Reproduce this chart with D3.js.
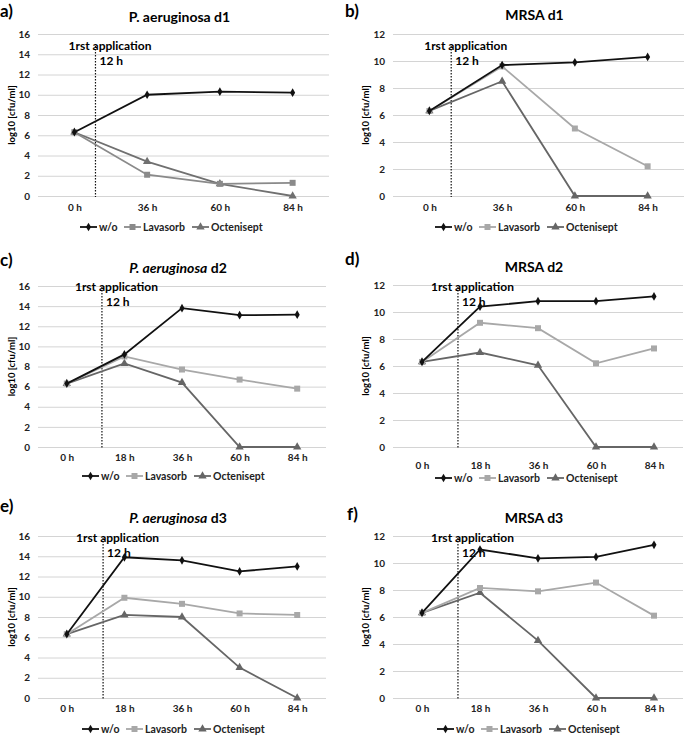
<!DOCTYPE html>
<html>
<head>
<meta charset="utf-8">
<script src="https://cdn.jsdelivr.net/npm/d3@7"></script>
<style>
  body { margin: 0; background: #fff; }
  text { font-family: Lato, "Open Sans", sans-serif; }
</style>
</head>
<body>
<div id="chart"></div>
<script>
// categories
const timesD1 = ["0 h", "36 h", "60 h", "84 h"];
const timesD23 = ["0 h", "18 h", "36 h", "60 h", "84 h"];
const seriesNames = ["w/o", "Lavasorb", "Octenisept"];
const yTicksPa = [0, 2, 4, 6, 8, 10, 12, 14, 16];
const yTicksMrsa = [0, 2, 4, 6, 8, 10, 12];

// log10 cfu/ml
const paD1Wo  = [6.3, 10.0, 10.3, 10.2];
const paD1Lav = [6.3, 2.1, 1.2, 1.3];
const paD1Oct = [6.3, 3.4, 1.2, 0];

const mrsaD1Wo  = [6.3, 9.7, 9.9, 10.3];
const mrsaD1Lav = [6.3, 9.6, 5.0, 2.2];
const mrsaD1Oct = [6.3, 8.5, 0, 0];

const paD2Wo  = [6.3, 9.2, 13.8, 13.1, 13.15];
const paD2Lav = [6.3, 9.0, 7.7, 6.7, 5.8];
const paD2Oct = [6.3, 8.3, 6.4, 0, 0];

const mrsaD2Wo  = [6.3, 10.4, 10.8, 10.8, 11.15];
const mrsaD2Lav = [6.3, 9.2, 8.8, 6.2, 7.3];
const mrsaD2Oct = [6.3, 7.0, 6.05, 0, 0];

const paD3Wo  = [6.3, 13.9, 13.6, 12.5, 13.0];
const paD3Lav = [6.3, 9.9, 9.3, 8.35, 8.2];
const paD3Oct = [6.3, 8.2, 8.0, 3.0, 0];

const mrsaD3Wo  = [6.3, 11.0, 10.35, 10.45, 11.35];
const mrsaD3Lav = [6.3, 8.15, 7.9, 8.55, 6.1];
const mrsaD3Oct = [6.3, 7.8, 4.25, 0, 0];

const colorsA = ["#111", "#8a8a8a", "#707070"];
const colorsB = ["#111", "#a8a8a8", "#666"];
const symbols = [d3.symbolDiamond, d3.symbolSquare, d3.symbolTriangle];
const symSize = [22, 36, 30];

const svg = d3.select("#chart").append("svg")
  .attr("width", 685)
  .attr("height", 742);

const panels = [
  {tag: "a)", tagX: 0, tagY: 17, org: "P. aeruginosa", day: " d1", italic: false, titleY: 22,
   times: timesD1, vals: [paD1Wo, paD1Lav, paD1Oct], ticks: yTicksPa, colors: colorsA,
   left: 38, right: 329, top: 34, bottom: 196, vIdx: 0.29, annY: 50, labY: 213, legX: 80, legY: 227, yLabX: 13},
  {tag: "b)", tagX: 345, tagY: 17, org: "MRSA", day: " d1", italic: false, titleY: 20,
   times: timesD1, vals: [mrsaD1Wo, mrsaD1Lav, mrsaD1Oct], ticks: yTicksMrsa, colors: colorsB,
   left: 393, right: 684, top: 34, bottom: 196, vIdx: 0.30, annY: 50, labY: 213, legX: 435, legY: 227, yLabX: 367},
  {tag: "c)", tagX: 0, tagY: 266, org: "P. aeruginosa", day: " d2", italic: true, titleY: 273,
   times: timesD23, vals: [paD2Wo, paD2Lav, paD2Oct], ticks: yTicksPa, colors: colorsB,
   left: 38, right: 326, top: 286, bottom: 447, vIdx: 0.61, annY: 291, labY: 463, legX: 82, legY: 476, yLabX: 13},
  {tag: "d)", tagX: 345, tagY: 265, org: "MRSA", day: " d2", italic: false, titleY: 272,
   times: timesD23, vals: [mrsaD2Wo, mrsaD2Lav, mrsaD2Oct], ticks: yTicksMrsa, colors: colorsB,
   left: 393, right: 683, top: 285, bottom: 447, vIdx: 0.62, annY: 291, labY: 471, legX: 435, legY: 478, yLabX: 367},
  {tag: "e)", tagX: 0, tagY: 512, org: "P. aeruginosa", day: " d3", italic: true, titleY: 523,
   times: timesD23, vals: [paD3Wo, paD3Lav, paD3Oct], ticks: yTicksPa, colors: colorsB,
   left: 38, right: 326, top: 536, bottom: 698, vIdx: 0.63, annY: 542, labY: 714, legX: 82, legY: 729, yLabX: 13},
  {tag: "f)", tagX: 347, tagY: 520, org: "MRSA", day: " d3", italic: false, titleY: 523,
   times: timesD23, vals: [mrsaD3Wo, mrsaD3Lav, mrsaD3Oct], ticks: yTicksMrsa, colors: colorsB,
   left: 393, right: 683, top: 536, bottom: 698, vIdx: 0.62, annY: 542, labY: 714, legX: 437, legY: 729, yLabX: 367}
];

panels.forEach(p => {
  const g = svg.append("g");
  const n = p.times.length;

  const x = d3.scaleLinear().domain([-0.5, n - 0.5]).range([p.left, p.right]);
  const y = d3.scaleLinear().domain([0, d3.max(p.ticks)]).range([p.bottom, p.top]);

  // panel tag
  g.append("text")
    .attr("x", p.tagX).attr("y", p.tagY)
    .attr("font-size", "17px").attr("font-weight", "bold")
    .text(p.tag);

  // title
  const t = g.append("text")
    .attr("x", (p.left + p.right) / 2 - 4).attr("y", p.titleY)
    .attr("text-anchor", "middle")
    .attr("font-size", "14px").attr("font-weight", "bold");
  t.append("tspan").attr("font-style", p.italic ? "italic" : "normal").text(p.org);
  t.append("tspan").text(p.day);

  // gridlines + y labels
  const yAxis = g.append("g")
    .attr("transform", `translate(${p.left},0)`)
    .call(d3.axisLeft(y).tickValues(p.ticks).tickSize(-(p.right - p.left)).tickPadding(8));
  yAxis.select(".domain").remove();
  yAxis.selectAll(".tick line").attr("stroke", "#d4d4d4").attr("stroke-width", 1);
  yAxis.selectAll(".tick text")
    .attr("font-family", "Lato, sans-serif").attr("font-size", "10px")
    .attr("font-weight", "bold").attr("fill", "#222");

  g.append("text")
    .attr("transform", `translate(${p.yLabX},${(p.top + p.bottom) / 2}) rotate(-90)`)
    .attr("text-anchor", "middle").attr("dominant-baseline", "middle")
    .attr("font-size", "9.5px").attr("font-weight", "bold")
    .text("log10 [cfu/ml]");

  // x labels
  const xAxis = g.append("g")
    .attr("transform", `translate(0,${p.labY - 9})`)
    .call(d3.axisBottom(x).tickValues(d3.range(n)).tickFormat(i => p.times[i]).tickSize(0).tickPadding(0));
  xAxis.select(".domain").remove();
  xAxis.selectAll(".tick text")
    .attr("font-family", "Lato, sans-serif").attr("font-size", "10px")
    .attr("font-weight", "bold").attr("fill", "#222");

  // first application marker
  const vx = x(p.vIdx);
  g.append("line")
    .attr("x1", vx).attr("x2", vx)
    .attr("y1", p.annY - 4).attr("y2", p.bottom + 1)
    .attr("stroke", "#111").attr("stroke-width", 1.2)
    .attr("stroke-dasharray", "1.5,1.5");
  g.append("text")
    .attr("x", vx - 27).attr("y", p.annY)
    .attr("font-family", "'Liberation Sans', Arial, sans-serif")
    .attr("font-size", "12px").attr("font-weight", "bold")
    .text("1rst application");
  g.append("text")
    .attr("x", vx + 4).attr("y", p.annY + 15)
    .attr("font-family", "'Liberation Sans', Arial, sans-serif")
    .attr("font-size", "12px").attr("font-weight", "bold")
    .text("12 h");

  // series, drawn back to front
  const line = d3.line().x((d, i) => x(i)).y(d => y(d));
  [2, 1, 0].forEach(s => {
    g.append("path")
      .datum(p.vals[s])
      .attr("d", line)
      .attr("fill", "none")
      .attr("stroke", p.colors[s])
      .attr("stroke-width", 1.8);
    g.selectAll(null)
      .data(p.vals[s])
      .enter().append("path")
      .attr("transform", (d, i) => `translate(${x(i)},${y(d)})`)
      .attr("d", d3.symbol().type(symbols[s]).size(symSize[s]))
      .attr("fill", p.colors[s]);
  });

  // legend
  const legOffsets = [0, 44, 112];
  seriesNames.forEach((name, s) => {
    const lx = p.legX + legOffsets[s];
    g.append("line")
      .attr("x1", lx).attr("x2", lx + 17)
      .attr("y1", p.legY).attr("y2", p.legY)
      .attr("stroke", p.colors[s]).attr("stroke-width", 1.8);
    g.append("path")
      .attr("transform", `translate(${lx + 8.5},${p.legY})`)
      .attr("d", d3.symbol().type(symbols[s]).size(symSize[s]))
      .attr("fill", p.colors[s]);
    g.append("text")
      .attr("x", lx + 19).attr("y", p.legY + 3.5)
      .attr("font-size", "10.5px").attr("font-weight", "bold").attr("fill", "#222")
      .text(name);
  });
});
</script>
</body>
</html>
